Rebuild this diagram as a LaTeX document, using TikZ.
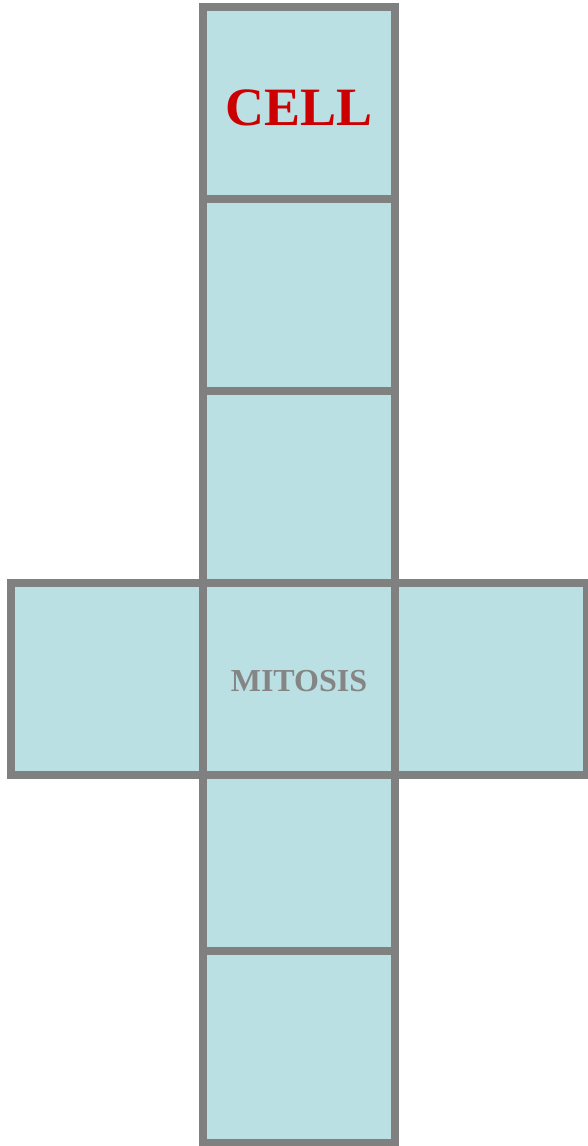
\documentclass[tikz,border=0pt]{standalone}
\usepackage{fontspec}
\setmainfont{Liberation Serif}
\definecolor{cellfill}{HTML}{BAE0E3}
\definecolor{cellline}{HTML}{808080}
\definecolor{cellred}{HTML}{CC0000}
\definecolor{mitgray}{HTML}{858585}
\begin{document}
\begin{tikzpicture}[x=1pt,y=-1pt,
  cellbox/.style={draw=cellline, fill=cellfill, line width=8pt, rectangle,
    minimum width=192pt, minimum height=192pt, inner sep=0pt, outer sep=0pt},
  shortbox/.style={cellbox, minimum height=176pt}]
\useasboundingbox (0,0) rectangle (587,1146);
\node[cellbox] (r1) at (299,103) {};
\node[cellbox] (r2) at (299,295) {};
\node[cellbox] (r3) at (299,487) {};
\node[cellbox] (left) at (107,679) {};
\node[cellbox] (right) at (491,679) {};
\node[cellbox] (r4) at (299,679) {};
\node[shortbox] (r5) at (299,863) {};
\node[cellbox] (r6) at (299,1047) {};
\node[text=cellred, font=\fontsize{54}{60}\selectfont\bfseries] (celltxt) at ([yshift=-5pt]r1.center) {CELL};
\node[text=mitgray, font=\fontsize{32}{38}\selectfont\bfseries] (mittxt) at ([yshift=-2pt]r4.center) {MITOSIS};
\end{tikzpicture}
\end{document}
